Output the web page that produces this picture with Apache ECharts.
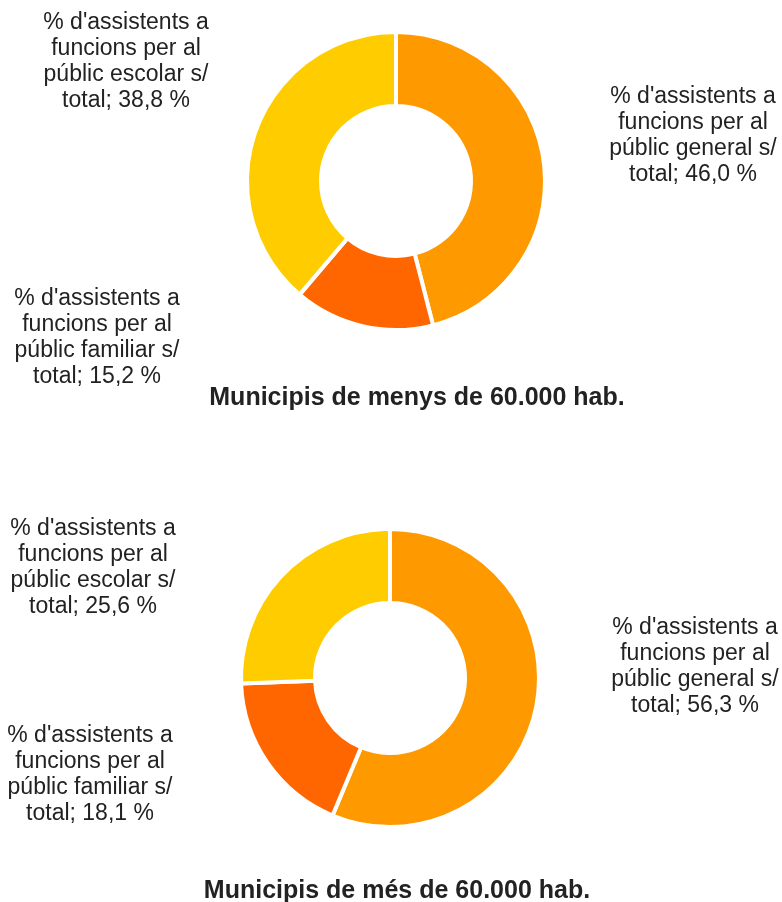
<!DOCTYPE html>
<html>
<head>
<meta charset="utf-8">
<script src="https://cdn.jsdelivr.net/npm/echarts@6/dist/echarts.min.js"></script>
<style>
  html, body { margin: 0; padding: 0; background: #fff; }
  #chart { width: 782px; height: 902px; }
</style>
</head>
<body>
<div id="chart"></div>
<script>
// data
var categories = ['general', 'familiar', 'escolar'];
var colors = ['#FF9900', '#FF6600', '#FFCC00'];
var valuesSmall = [46.0, 15.2, 38.8];   // municipis de menys de 60.000 hab.
var valuesLarge = [56.3, 18.1, 25.6];   // municipis de més de 60.000 hab.
var titles = ['Municipis de menys de 60.000 hab.', 'Municipis de més de 60.000 hab.'];

// where each label block sits (center x, middle y), per chart and per category
var labelPos = [
    [[693, 136], [97, 338], [126, 62]],
    [[695, 667], [90, 775], [93, 568]]
];

function labelText(cat, v) {
    return "% d'assistents a\nfuncions per al\npúblic " + cat + " s/\ntotal; " +
        v.toFixed(1).replace('.', ',') + ' %';
}

function makeData(values) {
    return categories.map(function (c, i) {
        return { name: c, value: values[i], itemStyle: { color: colors[i] } };
    });
}

function makeSeries(values, center, idx) {
    return {
        type: 'pie',
        center: center,
        radius: [75, 149],
        startAngle: 90,
        clockwise: true,
        silent: true,
        itemStyle: { borderColor: '#fff', borderWidth: 4 },
        label: {
            show: true,
            position: 'outside',
            align: 'center',
            color: '#222',
            fontFamily: '"Liberation Sans", Arial, sans-serif',
            fontSize: 23,
            lineHeight: 26,
            formatter: function (p) { return labelText(p.name, p.value); }
        },
        labelLine: { show: false },
        labelLayout: function (p) {
            var pos = labelPos[idx][p.dataIndex];
            return { x: pos[0], y: pos[1], align: 'center', verticalAlign: 'middle' };
        },
        data: makeData(values)
    };
}

var titleStyle = { fontFamily: '"Liberation Sans", Arial, sans-serif', fontSize: 25, fontWeight: 'bold', color: '#222' };

var chart = echarts.init(document.getElementById('chart'));
chart.setOption({
    animation: false,
    backgroundColor: '#fff',
    title: [{
        text: titles[0],
        left: 412,
        top: 381,
        textAlign: 'center',
        textStyle: titleStyle
    }, {
        text: titles[1],
        left: 392,
        top: 874,
        textAlign: 'center',
        textStyle: titleStyle
    }],
    series: [
        makeSeries(valuesSmall, [396, 181], 0),
        makeSeries(valuesLarge, [390, 678], 1)
    ]
});
</script>
</body>
</html>
